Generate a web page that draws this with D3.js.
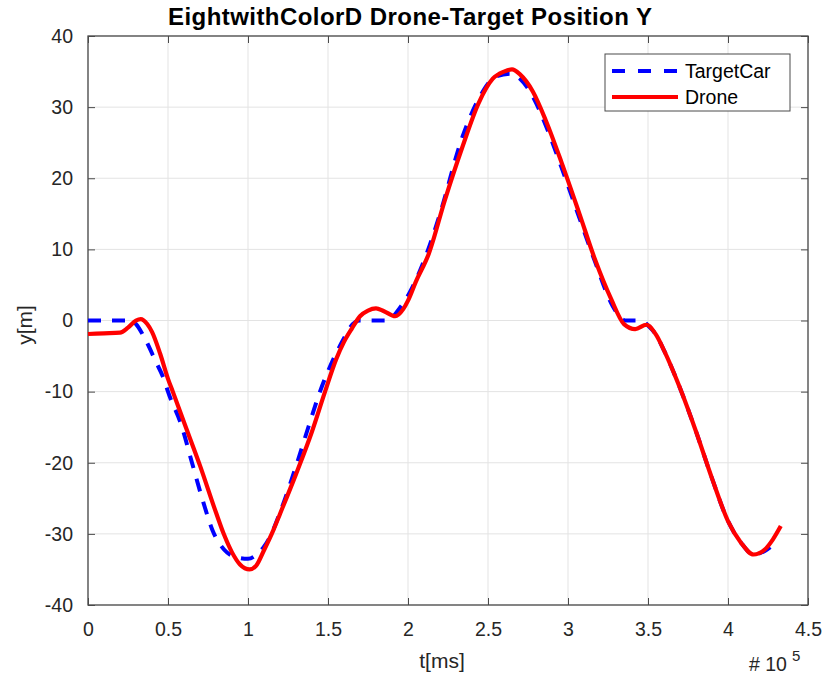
<!DOCTYPE html>
<html>
<head>
<meta charset="utf-8">
<script src="https://cdn.jsdelivr.net/npm/d3@7"></script>
<style>
  body { margin: 0; background: #fff; }
  svg { font-family: Arial, "Liberation Sans", Helvetica, sans-serif; }
</style>
</head>
<body>
<div id="chart"></div>
<script>
// tiempo en unidades de 1e5 ms
const droneT = [0, 0.1, 0.2, 0.25, 0.3, 0.33, 0.37, 0.4, 0.45, 0.5, 0.53, 0.6, 0.7, 0.8, 0.85, 0.9, 0.95, 1.01, 1.05, 1.1, 1.16, 1.2, 1.3, 1.4, 1.48, 1.55, 1.6, 1.65, 1.7, 1.75, 1.8, 1.85, 1.92, 1.97, 2.0, 2.05, 2.13, 2.23, 2.34, 2.44, 2.53, 2.6, 2.65, 2.7, 2.78, 2.86, 2.96, 3.07, 3.17, 3.27, 3.35, 3.42, 3.49, 3.55, 3.6, 3.7, 3.8, 3.9, 4.0, 4.08, 4.16, 4.23, 4.28, 4.33];
const droneY = [-1.9, -1.8, -1.7, -1.0, 0.0, 0.2, -0.5, -1.6, -4.6, -8.2, -10, -14.3, -20.4, -27, -30.1, -32.6, -34.3, -35.0, -34.5, -32.3, -29.4, -27.2, -21.6, -15.6, -10.1, -5.5, -3.0, -1.1, 0.6, 1.4, 1.7, 1.3, 0.6, 1.6, 2.8, 5.5, 9.4, 16.9, 24.4, 30.5, 34.0, 35.0, 35.3, 34.6, 32.2, 28.2, 22.2, 15.1, 8.5, 3.0, -0.5, -1.2, -0.6, -2.0, -4.2, -9.5, -15.6, -22.2, -28.2, -31.2, -32.9, -32.2, -30.8, -28.9];

const targetT = [0, 0.1, 0.2, 0.27, 0.3, 0.35, 0.42, 0.48, 0.5, 0.585, 0.65, 0.72, 0.78, 0.85, 0.93, 1.0, 1.06, 1.1, 1.14, 1.2, 1.3, 1.38, 1.45, 1.53, 1.6, 1.64, 1.7, 1.8, 1.88, 1.93, 2.01, 2.12, 2.2, 2.34, 2.45, 2.55, 2.64, 2.7, 2.78, 2.86, 2.96, 3.07, 3.17, 3.28, 3.34, 3.36, 3.41, 3.46, 3.5, 3.55, 3.6, 3.7, 3.8, 3.9, 4.0, 4.08, 4.16, 4.23, 4.3];
const targetY = [0, 0, 0, 0, -0.5, -2.3, -5.6, -8.6, -10, -14.8, -20, -25.5, -29.6, -32.2, -33.3, -33.5, -32.8, -31.8, -30.3, -27, -20.5, -14.8, -10, -5.6, -2.5, -0.9, 0, 0, 0, 1.2, 3.9, 9.6, 15, 25.8, 31.5, 34.3, 34.7, 34.0, 31.5, 27.5, 21.5, 14.5, 8.2, 2.0, 0.2, 0, 0, 0, -0.7, -2.0, -4.2, -9.5, -15.6, -22.2, -28.2, -31.2, -32.9, -32.4, -31.2];

const xTicks = [0, 0.5, 1, 1.5, 2, 2.5, 3, 3.5, 4, 4.5];
const yTicks = [-40, -30, -20, -10, 0, 10, 20, 30, 40];
const seriesNames = ['TargetCar', 'Drone'];

const width = 824, height = 678;
const margin = { top: 36, right: 16, bottom: 73, left: 88 };
const iw = width - margin.left - margin.right;
const ih = height - margin.top - margin.bottom;

const svg = d3.select('#chart').append('svg')
    .attr('width', width)
    .attr('height', height);

const x = d3.scaleLinear().domain([0, 4.5]).range([0, iw]);
const y = d3.scaleLinear().domain([-40, 40]).range([ih, 0]);

const g = svg.append('g').attr('transform', `translate(${margin.left},${margin.top})`);

// rejilla
g.append('g').selectAll('line').data(xTicks).enter().append('line')
    .attr('x1', d => x(d)).attr('x2', d => x(d))
    .attr('y1', 0).attr('y2', ih)
    .style('stroke', '#e3e3e3').style('stroke-width', 1);
g.append('g').selectAll('line').data(yTicks).enter().append('line')
    .attr('y1', d => y(d)).attr('y2', d => y(d))
    .attr('x1', 0).attr('x2', iw)
    .style('stroke', '#e3e3e3').style('stroke-width', 1);

// ejes
const tickColor = '#4a4a4a';
const fmt = d => String(d);
const xAxis = g.append('g').attr('transform', `translate(0,${ih})`)
    .call(d3.axisBottom(x).tickValues(xTicks).tickFormat(fmt).tickSizeInner(-7).tickSizeOuter(0).tickPadding(17));
const xTop = g.append('g')
    .call(d3.axisTop(x).tickValues(xTicks).tickFormat('').tickSizeInner(-7).tickSizeOuter(0));
const yAxis = g.append('g')
    .call(d3.axisLeft(y).tickValues(yTicks).tickFormat(fmt).tickSizeInner(-7).tickSizeOuter(0).tickPadding(15));
const yRight = g.append('g').attr('transform', `translate(${iw},0)`)
    .call(d3.axisRight(y).tickValues(yTicks).tickFormat('').tickSizeInner(-7).tickSizeOuter(0));

[xAxis, xTop, yAxis, yRight].forEach(a => {
    a.selectAll('.domain').remove();
    a.selectAll('line').style('stroke', tickColor);
    a.selectAll('text').style('font-size', '19.5px').style('fill', '#262626')
        .style('font-family', 'Arial, "Liberation Sans", sans-serif');
});

// caja
g.append('rect')
    .attr('x', 0).attr('y', 0).attr('width', iw).attr('height', ih)
    .style('fill', 'none').style('stroke', tickColor).style('stroke-width', 1.3);

// líneas
const line = d3.line()
    .x(d => x(d[0]))
    .y(d => y(d[1]))
    .curve(d3.curveMonotoneX);

const targetData = targetT.map((t, i) => [t, targetY[i]]);
const droneData = droneT.map((t, i) => [t, droneY[i]]);

g.append('path')
    .datum(targetData)
    .attr('d', line)
    .style('fill', 'none')
    .style('stroke', '#0000ff')
    .style('stroke-width', 4)
    .style('stroke-dasharray', '13,11');

g.append('path')
    .datum(droneData)
    .attr('d', line)
    .style('fill', 'none')
    .style('stroke', '#ff0000')
    .style('stroke-width', 4.2)
    .style('stroke-linejoin', 'round');

// leyenda
const legend = svg.append('g').attr('transform', 'translate(605,54)');
legend.append('rect')
    .attr('width', 185).attr('height', 57)
    .style('fill', '#fff').style('stroke', tickColor).style('stroke-width', 1);
const legendY = [17, 43];
legend.append('line')
    .attr('x1', 7).attr('x2', 73).attr('y1', legendY[0]).attr('y2', legendY[0])
    .style('stroke', '#0000ff').style('stroke-width', 4).style('stroke-dasharray', '13,13');
legend.append('line')
    .attr('x1', 7).attr('x2', 73).attr('y1', legendY[1]).attr('y2', legendY[1])
    .style('stroke', '#ff0000').style('stroke-width', 4.2);
legend.selectAll('text.lab').data(seriesNames).enter().append('text')
    .attr('class', 'lab')
    .attr('x', 80)
    .attr('y', (d, i) => legendY[i])
    .attr('dy', '0.35em')
    .text(d => d)
    .style('font-size', '19.5px')
    .style('fill', '#000');

// título y etiquetas
svg.append('text')
    .attr('x', 410).attr('y', 25)
    .attr('text-anchor', 'middle')
    .attr('textLength', 484)
    .attr('lengthAdjust', 'spacing')
    .text('EightwithColorD Drone-Target Position Y')
    .style('font-size', '24px')
    .style('font-weight', 'bold')
    .style('fill', '#000');

svg.append('text')
    .attr('x', 442).attr('y', 668)
    .attr('text-anchor', 'middle')
    .text('t[ms]')
    .style('font-size', '21px')
    .style('fill', '#262626');

svg.append('text')
    .attr('transform', 'translate(32,325) rotate(-90)')
    .attr('text-anchor', 'middle')
    .text('y[m]')
    .style('font-size', '21px')
    .style('fill', '#262626');

const expo = svg.append('text')
    .attr('x', 749).attr('y', 671)
    .style('font-size', '19.5px')
    .style('fill', '#262626');
expo.append('tspan').text('# 10');
expo.append('tspan').attr('dx', 5).attr('dy', -10).style('font-size', '15px').text('5');
</script>
</body>
</html>
